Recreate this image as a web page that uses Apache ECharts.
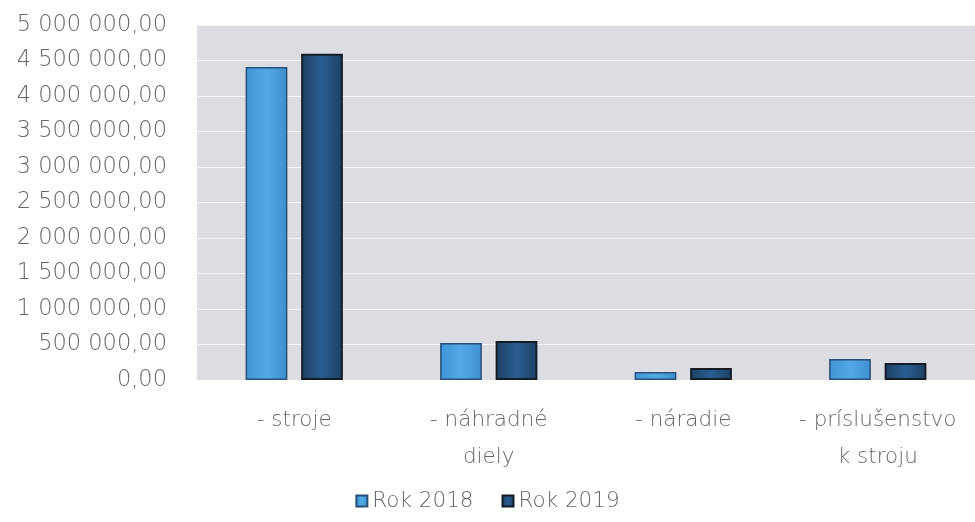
<!DOCTYPE html>
<html>
<head>
<meta charset="utf-8">
<script src="https://cdn.jsdelivr.net/npm/echarts@6/dist/echarts.min.js"></script>
<style>
html,body{margin:0;padding:0;background:#fff;}
#c{width:975px;height:522px;}
</style>
</head>
<body>
<div id="c"></div>
<script>
const categories = ['- stroje', '- náhradné\ndiely', '- náradie', '- príslušenstvo\nk stroju'];
const seriesNames = ['Rok 2018', 'Rok 2019'];
const values2018 = [4410000, 521000, 113000, 296000];
const values2019 = [4595000, 549000, 169000, 239000];

const chart = echarts.init(document.getElementById('c'));
function fmt(v){
  const parts = v.toFixed(2).split('.');
  const intPart = parts[0].replace(/\B(?=(\d{3})+(?!\d))/g, ' ');
  return intPart + ',' + parts[1];
}
const FONT = '"DejaVu Sans", sans-serif';
const lightFill = new echarts.graphic.LinearGradient(0,0,1,0,[
  {offset:0,color:'#3f95d6'},{offset:0.5,color:'#52a9e6'},{offset:1,color:'#3f8fcf'}]);
const darkFill = new echarts.graphic.LinearGradient(0,0,1,0,[
  {offset:0,color:'#1d3f63'},{offset:0.5,color:'#2b5d8f'},{offset:1,color:'#1d3f63'}]);
chart.setOption({
  backgroundColor:'#ffffff',
  animation:false,
  textStyle:{fontFamily:FONT},
  grid:{left:197, top:25, width:784, height:355, backgroundColor:'#dcdce3', show:true, borderWidth:0},
  legend:{
    data:seriesNames, left:'center', top:485, itemWidth:11, itemHeight:11, itemGap:28,
    icon:'rect',
    textStyle:{fontSize:21.5, color:'#666666', fontFamily:FONT, fontWeight:200}
  },
  xAxis:{
    type:'category', data:categories,
    axisLine:{show:false}, axisTick:{show:false},
    axisLabel:{fontSize:21.5, color:'#666666', margin:22, lineHeight:37, interval:0, fontFamily:FONT, fontWeight:200}
  },
  yAxis:{
    type:'value', min:0, max:5000000, interval:500000,
    axisLine:{show:false}, axisTick:{show:false},
    splitLine:{lineStyle:{color:'rgba(255,255,255,0.7)', width:1}},
    axisLabel:{fontSize:22.5, color:'#666666', margin:30, formatter:fmt, fontFamily:FONT, fontWeight:200}
  },
  series:[
    {name:seriesNames[0], type:'bar', data:values2018, barGap:'33%', barCategoryGap:'50%',
     itemStyle:{color:lightFill, borderColor:'#2a4f78', borderWidth:1.5}},
    {name:seriesNames[1], type:'bar', data:values2019,
     itemStyle:{color:darkFill, borderColor:'#141c26', borderWidth:2}}
  ]
});
</script>
</body>
</html>
